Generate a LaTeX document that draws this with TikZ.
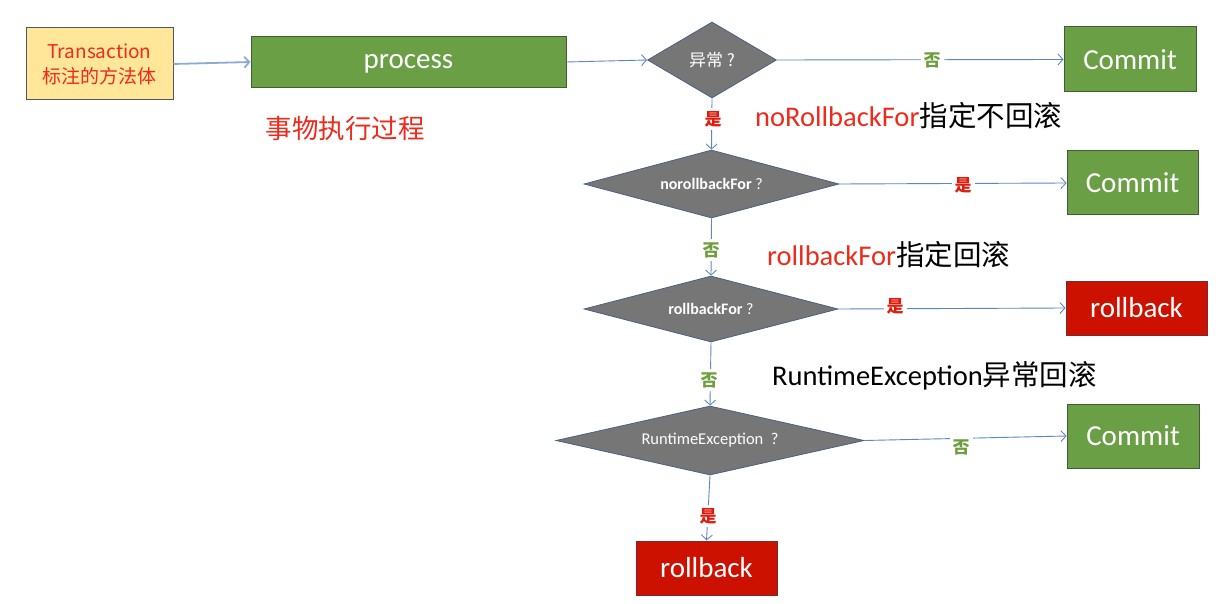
\documentclass[tikz,border=0pt]{standalone}
\usepackage{fontspec}
\setmainfont{Carlito}
\newfontfamily\cjk{Noto Sans CJK SC}
\usetikzlibrary{shapes.geometric,arrows.meta}
\definecolor{gfill}{HTML}{6A9F45}
\definecolor{gdraw}{HTML}{3E5F36}
\definecolor{rfill}{HTML}{CC1100}
\definecolor{rdraw}{HTML}{7A2A2A}
\definecolor{yfill}{HTML}{FFE699}
\definecolor{ydraw}{HTML}{505860}
\definecolor{dfill}{HTML}{767676}
\definecolor{ddraw}{HTML}{4A6080}
\definecolor{lnc}{HTML}{5E86C4}
\definecolor{txtred}{HTML}{EE2A1C}
\definecolor{yesred}{HTML}{E01A0C}
\definecolor{nogreen}{HTML}{6E9F3E}
\begin{document}
\begin{tikzpicture}[x=1pt,y=-1pt,
  base/.style={inner sep=0pt, line width=1pt, anchor=center},
  gbox/.style={base, draw=gdraw, fill=gfill, text=white, font=\fontsize{29}{31}\selectfont},
  rbox/.style={base, draw=rdraw, fill=rfill, text=white, font=\fontsize{29}{31}\selectfont},
  dia/.style={base, diamond, draw=ddraw, fill=dfill, text=white, line width=0.8pt, font=\fontsize{16}{18}\selectfont},
  conn/.style={draw=lnc, line width=0.9pt, -{Straight Barb[length=5pt,width=11pt]}},
  yes/.style={fill=white, inner sep=3pt, text=yesred, font=\cjk\bfseries\fontsize{17}{19}\selectfont},
  no/.style={fill=white, inner sep=3pt, text=nogreen, font=\cjk\bfseries\fontsize{17}{19}\selectfont},
  note/.style={anchor=west, inner sep=0pt, font=\fontsize{28.5}{30}\selectfont}
]
\useasboundingbox (0,0) rectangle (1223,604);

\node[base, draw=ydraw, fill=yfill, minimum width=147pt, minimum height=72pt, align=center, text=txtred, font=\cjk\fontsize{19}{25}\selectfont] (trans) at (99.5,64) {Transaction\\标注的方法体};
\node[gbox, minimum width=315pt, minimum height=51pt, text height=14pt, text depth=0pt] (proc) at (408.5,62) {process};
\node[dia, shape aspect=1.7, minimum width=129pt, minimum height=76pt] (d1) at (712,60) {{\cjk\fontsize{17}{19}\selectfont 异常 ?}};
\node[gbox, minimum width=132pt, minimum height=65pt] (c1) at (1130,59.5) {Commit};
\node[dia, shape aspect=3.75, minimum width=255pt, minimum height=68pt] (d2) at (711.5,184) {{\bfseries norollbackFor} ?};
\node[gbox, minimum width=131pt, minimum height=64pt] (c2) at (1132.5,183) {Commit};
\node[dia, shape aspect=3.85, minimum width=254pt, minimum height=66pt] (d3) at (711,309) {{\bfseries rollbackFor} ?};
\node[rbox, minimum width=141pt, minimum height=54pt] (rb1) at (1136.5,308) {rollback};
\node[dia, shape aspect=4.46, minimum width=308pt, minimum height=69pt, font=\fontsize{16.5}{18}\selectfont] (d4) at (710,440.5) {RuntimeException\ \ ?};
\node[gbox, minimum width=132pt, minimum height=64pt] (c3) at (1133,436) {Commit};
\node[rbox, minimum width=141pt, minimum height=54pt] (rb2) at (706.5,568) {rollback};

\node[anchor=center, inner sep=0pt, text=txtred, font=\cjk\fontsize{26.5}{28}\selectfont] (t0) at (345,128) {事物执行过程};
\node[note] (t1) at (755,116) {\textcolor{txtred}{noRollbackFor}{\cjk 指定不回滚}};
\node[note] (t2) at (767,255) {\textcolor{txtred}{rollbackFor}{\cjk 指定回滚}};
\node[note] (t3) at (772,376) {RuntimeException{\cjk 异常回滚}};

\draw[conn, line width=1.8pt, draw=lnc!70] (trans.east) -- (proc.west);
\draw[conn] (proc.east) -- (d1.west);
\draw[conn] (d1.east) -- (c1.west);
\draw[conn] (d1.south) -- (d2.north);
\draw[conn] (d2.east) -- (c2.west);
\draw[conn] (d2.south) -- (d3.north);
\draw[conn] (d3.east) -- (rb1.west);
\draw[conn] (d3.south) -- (d4.north);
\draw[conn] (d4.east) -- (c3.west);
\draw[conn] (d4.south) -- (rb2.north);

\node[no] (l1) at (932,60) {否};
\node[yes] (l2) at (713,119) {是};
\node[yes] (l3) at (963,185) {是};
\node[no] (l4) at (711,250) {否};
\node[yes] (l5) at (895,306) {是};
\node[no] (l6) at (709,380) {否};
\node[no] (l7) at (961,447) {否};
\node[yes] (l8) at (708,516) {是};
\end{tikzpicture}
\end{document}
